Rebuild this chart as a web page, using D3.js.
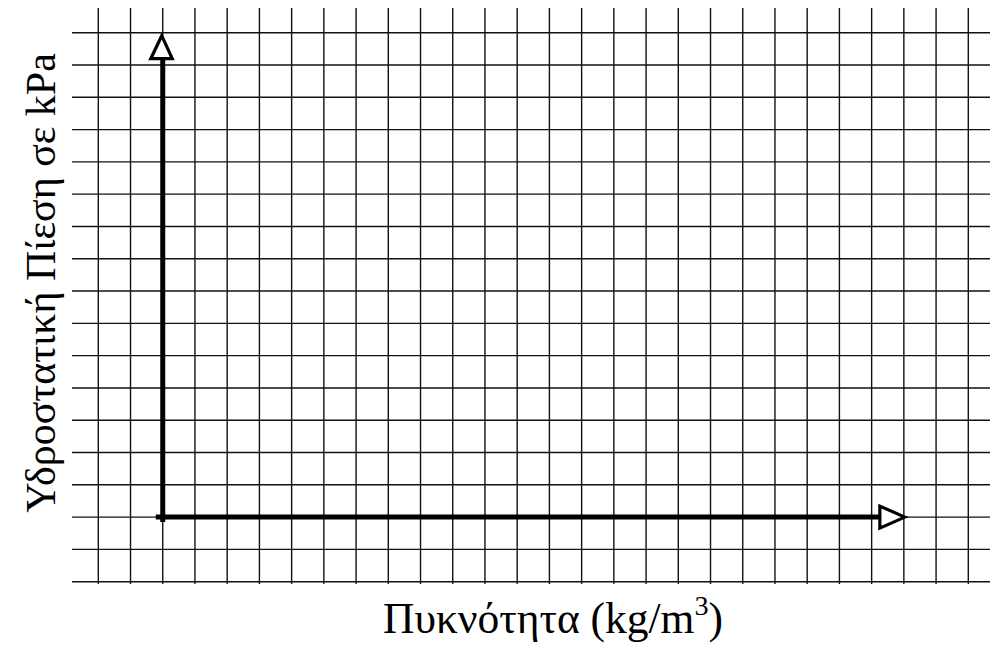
<!DOCTYPE html>
<html>
<head>
<meta charset="utf-8">
<script src="https://cdn.jsdelivr.net/npm/d3@7"></script>
<style>
  html, body { margin: 0; padding: 0; background: #fff; }
  svg { display: block; }
  .lbl { font-family: 'Liberation Serif', 'DejaVu Serif', serif; font-size: 40px; }
</style>
</head>
<body>
<main></main>
<script>
'use strict';

// grid columns / rows in graph units (origin at 0)
const xGrid = [-2, -1, 0, 1, 2, 3, 4, 5, 6, 7, 8, 9, 10, 11, 12, 13, 14, 15, 16, 17, 18, 19, 20, 21, 22, 23, 24, 25];
const yGrid = [-2, -1, 0, 1, 2, 3, 4, 5, 6, 7, 8, 9, 10, 11, 12, 13, 14, 15];
// where the arrows end
const xAxisEnd = 23;
const yAxisEnd = 15;
const xLabel = 'Πυκνότητα (kg/m';
const xLabelSup = '3';
const yLabel = 'Υδροστατική Πίεση σε kPa';

const width = 990,
  height = 654;

const svg = d3.select('main')
  .append('svg')
  .attr('width', width)
  .attr('height', height);

const x = d3.scaleLinear()
  .domain([-2, 25])
  .range([98.3, 968.3]);

const y = d3.scaleLinear()
  .domain([-2, 15])
  .range([581.7, 32.7]);

// grid
const grid = svg.append('g')
  .attr('stroke', '#111')
  .attr('stroke-width', 1.4);

grid.selectAll('line.v')
  .data(xGrid)
  .enter()
  .append('line')
  .attr('class', 'v')
  .attr('x1', d => x(d))
  .attr('x2', d => x(d))
  .attr('y1', 8)
  .attr('y2', 584);

grid.selectAll('line.h')
  .data(yGrid)
  .enter()
  .append('line')
  .attr('class', 'h')
  .attr('y1', d => y(d))
  .attr('y2', d => y(d))
  .attr('x1', 72)
  .attr('x2', width);

// axes
const axes = svg.append('g')
  .attr('stroke', '#000')
  .attr('fill', 'none');

axes.append('line')
  .attr('x1', x(0) - 7)
  .attr('x2', x(xAxisEnd) - 25)
  .attr('y1', y(0))
  .attr('y2', y(0))
  .attr('stroke-width', 5);

axes.append('line')
  .attr('x1', x(0))
  .attr('x2', x(0))
  .attr('y1', y(0) + 5)
  .attr('y2', y(yAxisEnd) + 26)
  .attr('stroke-width', 5);

// hollow arrow heads
const tipX = x(xAxisEnd), ox = y(0);
axes.append('path')
  .attr('d', `M${tipX + 1},${ox} L${tipX - 24},${ox - 11} L${tipX - 24},${ox + 11} Z`)
  .attr('fill', '#fff')
  .attr('stroke-width', 3.2)
  .attr('stroke-linejoin', 'miter');

const tipY = y(yAxisEnd), oy = x(0);
axes.append('path')
  .attr('d', `M${oy - 1},${tipY + 3} L${oy - 12},${tipY + 26} L${oy + 9.5},${tipY + 26} Z`)
  .attr('fill', '#fff')
  .attr('stroke-width', 3.2)
  .attr('stroke-linejoin', 'miter');

// labels, scaled to the width they take in the original
const fitSize = (sel, target) => {
  const w = sel.node().getBBox().width;
  sel.style('font-size', (40 * target / w) + 'px');
};

const xText = svg.append('text')
  .attr('class', 'lbl')
  .attr('x', 553)
  .attr('y', 633)
  .attr('text-anchor', 'middle')
  .text(xLabel);

// superscript 3, raised to about cap height
xText.append('tspan')
  .attr('dy', '-0.62em')
  .style('font-size', '0.65em')
  .text(xLabelSup);

xText.append('tspan')
  .attr('dy', '0.403em')
  .text(')');

fitSize(xText, 340);

const yText = svg.append('text')
  .attr('class', 'lbl')
  .attr('transform', 'translate(55,283) rotate(-90)')
  .attr('text-anchor', 'middle')
  .text(yLabel);

fitSize(yText, 460);
</script>
</body>
</html>
